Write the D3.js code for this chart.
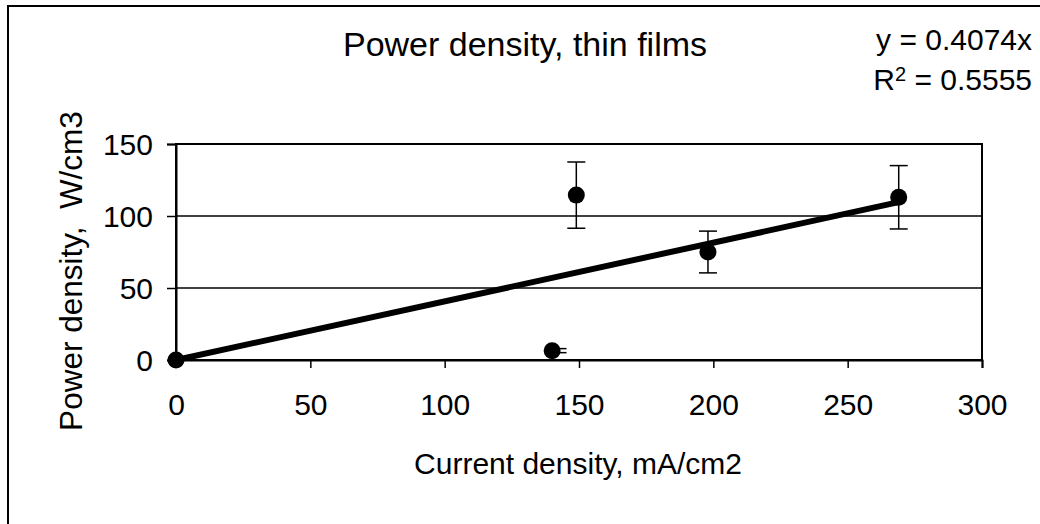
<!DOCTYPE html>
<html>
<head>
<meta charset="utf-8">
<script src="https://cdn.jsdelivr.net/npm/d3@7"></script>
<style>
  body { margin: 0; background: #fff; }
  text { font-family: "Liberation Sans", Arial, sans-serif; fill: #000; }
</style>
</head>
<body>
<div id="chartDiv"></div>
<script>
// Power density vs current density, thin films

var currentDensity = [0, 140, 149, 198, 269];
var powerDensity = [0, 6.5, 114.5, 75, 113];
var errorX = [0, 142, 149, 198, 269];
var powerError = [0, 1.4, 23, 14.5, 22];
var xTicks = [0, 50, 100, 150, 200, 250, 300];
var yTicks = [0, 50, 100, 150];
var slope = 0.4074;

var width = 1040, height = 524;

var svg = d3.select("#chartDiv")
    .append("svg")
    .attr("width", width)
    .attr("height", height);

// outer chart border (right and bottom fall off the picture)
svg.append("rect")
    .attr("x", 8)
    .attr("y", 6)
    .attr("width", 1100)
    .attr("height", 600)
    .attr("fill", "none")
    .attr("stroke", "#000")
    .attr("stroke-width", 2);

var x = d3.scaleLinear().domain([0, 300]).range([176, 982]);
var y = d3.scaleLinear().domain([0, 150]).range([360, 144]);

// gridlines
svg.append("g")
    .selectAll("line")
    .data(yTicks.slice(1))
    .enter()
    .append("line")
    .attr("x1", x(0))
    .attr("x2", x(300))
    .attr("y1", function(d) { return y(d); })
    .attr("y2", function(d) { return y(d); })
    .attr("stroke", "#000")
    .attr("stroke-width", 1.5);

// plot frame
svg.append("rect")
    .attr("x", x(0))
    .attr("y", y(150))
    .attr("width", x(300) - x(0))
    .attr("height", y(0) - y(150))
    .attr("fill", "none")
    .attr("stroke", "#000")
    .attr("stroke-width", 2);

var xAxis = svg.append("g")
    .attr("transform", "translate(0," + y(0) + ")")
    .call(d3.axisBottom(x).tickValues(xTicks).tickSize(8).tickPadding(26));

var yAxis = svg.append("g")
    .attr("transform", "translate(" + x(0) + ",0)")
    .call(d3.axisLeft(y).tickValues(yTicks).tickSize(9).tickPadding(14));

[xAxis, yAxis].forEach(function(a) {
    a.select(".domain").attr("stroke", "#000").attr("stroke-width", 2);
    a.selectAll(".tick line").attr("stroke", "#000").attr("stroke-width", 1.5);
    a.selectAll(".tick text")
        .style("font-family", "'Liberation Sans', Arial, sans-serif")
        .style("font-size", "30px")
        .attr("fill", "#000");
});
yAxis.selectAll(".tick text").attr("dy", "0.35em");

// error bars
var bars = svg.append("g")
    .selectAll("g")
    .data(currentDensity.map(function(d, i) {
        return {x: errorX[i], y: powerDensity[i], e: powerError[i]};
    }).filter(function(d) { return d.e > 0; }))
    .enter()
    .append("g")
    .attr("stroke", "#000")
    .attr("stroke-width", 1.5);

bars.append("line")
    .attr("x1", function(d) { return x(d.x); })
    .attr("x2", function(d) { return x(d.x); })
    .attr("y1", function(d) { return y(d.y - d.e); })
    .attr("y2", function(d) { return y(d.y + d.e); });
bars.selectAll(".cap")
    .data(function(d) { return [d.y - d.e, d.y + d.e].map(function(v) { return {x: d.x, v: v}; }); })
    .enter()
    .append("line")
    .attr("x1", function(d) { return x(d.x) - 9; })
    .attr("x2", function(d) { return x(d.x) + 9; })
    .attr("y1", function(d) { return y(d.v); })
    .attr("y2", function(d) { return y(d.v); });

// linear trendline through origin
var xMax = d3.max(currentDensity);
svg.append("line")
    .attr("x1", x(0))
    .attr("y1", y(0))
    .attr("x2", x(xMax))
    .attr("y2", y(slope * xMax))
    .attr("stroke", "#000")
    .attr("stroke-width", 6);

// markers
svg.append("g")
    .selectAll("circle")
    .data(currentDensity)
    .enter()
    .append("circle")
    .attr("cx", function(d) { return x(d); })
    .attr("cy", function(d, i) { return y(powerDensity[i]); })
    .attr("r", 8.5)
    .attr("fill", "#000");

// titles
svg.append("text")
    .attr("x", 525)
    .attr("y", 56)
    .attr("text-anchor", "middle")
    .style("font-size", "34px")
    .text("Power density, thin films");

svg.append("text")
    .attr("x", 578)
    .attr("y", 474)
    .attr("text-anchor", "middle")
    .style("font-size", "30px")
    .text("Current density, mA/cm2");

svg.append("text")
    .attr("transform", "translate(82,271) rotate(-90)")
    .attr("text-anchor", "middle")
    .style("font-size", "31.5px")
    .style("white-space", "pre")
    .text("Power density,  W/cm3");

// trendline equation
svg.append("text")
    .attr("x", 1032)
    .attr("y", 50)
    .attr("text-anchor", "end")
    .style("font-size", "30px")
    .text("y = " + slope + "x");

var r2 = svg.append("text")
    .attr("x", 1032)
    .attr("y", 90)
    .attr("text-anchor", "end")
    .style("font-size", "30px");
r2.append("tspan").text("R");
r2.append("tspan").attr("dy", -9).style("font-size", "20px").text("2");
r2.append("tspan").attr("dy", 9).text(" = 0.5555");
</script>
</body>
</html>
